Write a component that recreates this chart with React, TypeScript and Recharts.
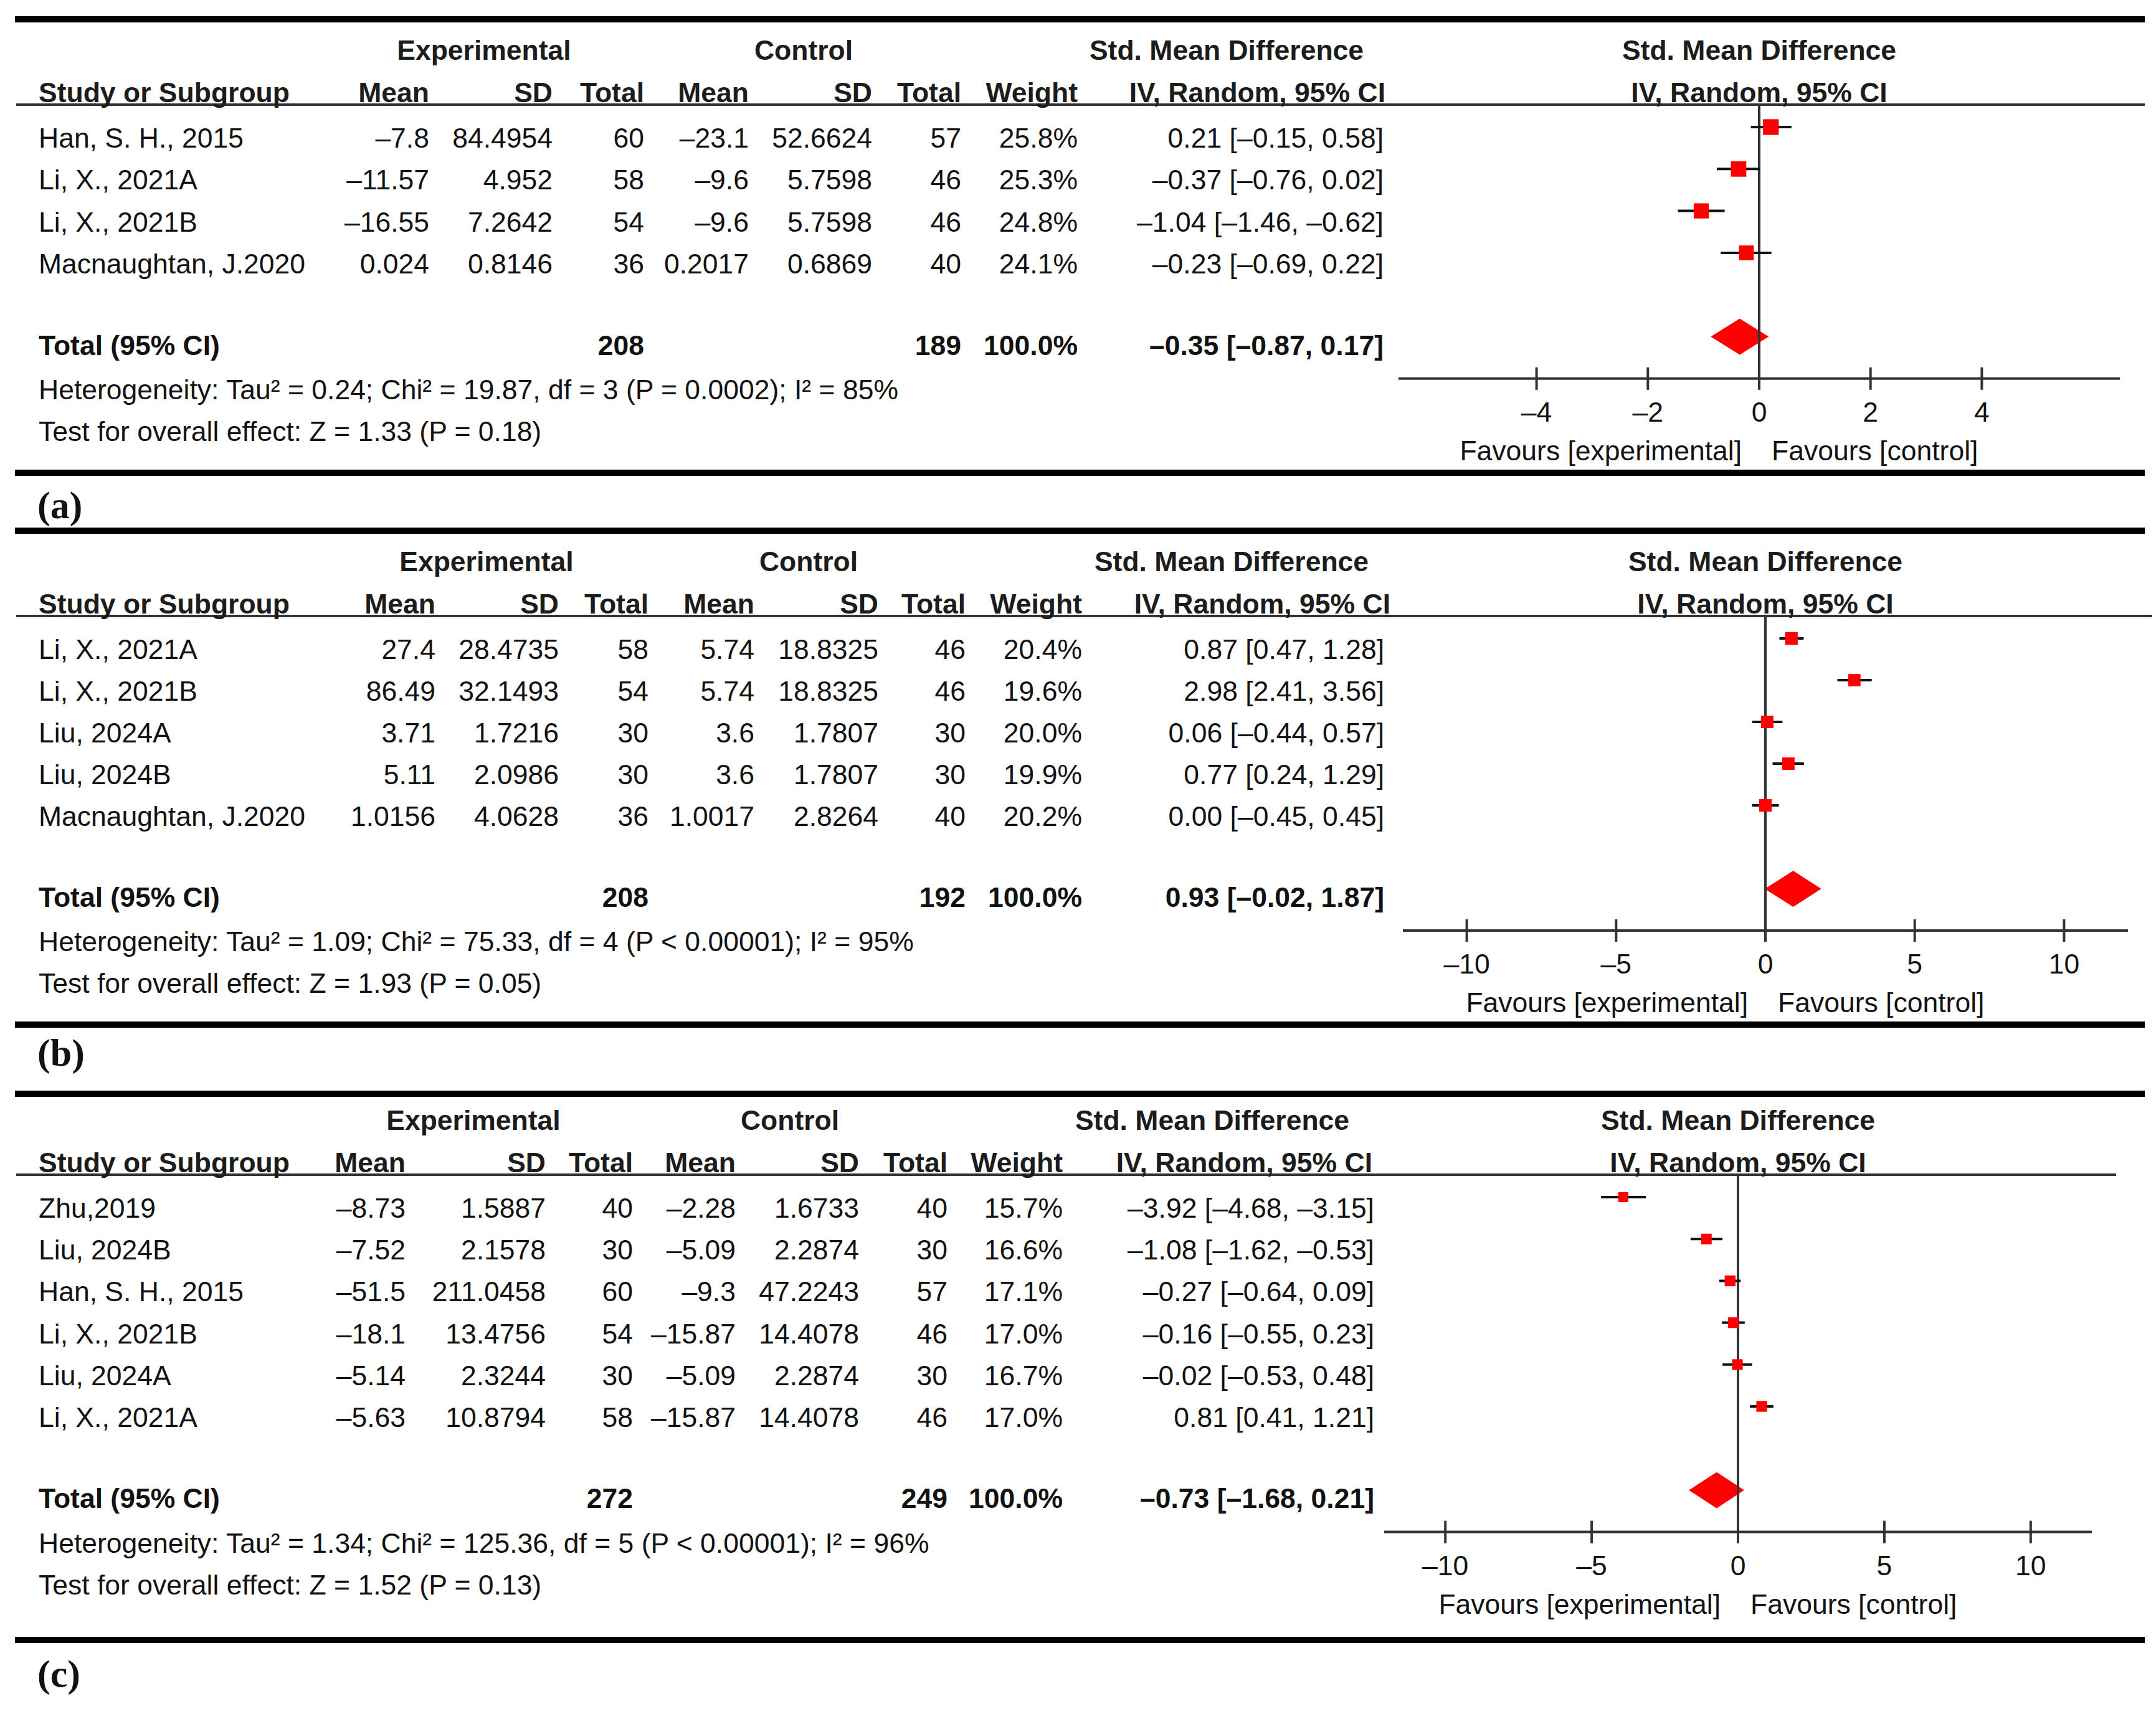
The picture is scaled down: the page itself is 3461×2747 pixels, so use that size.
import React from 'react';
import { ComposedChart, Scatter, Area, XAxis, YAxis, ErrorBar, ReferenceLine } from 'recharts';

const W = 3461;
const H = 2747;
const SANS = '"Liberation Sans", Arial, Helvetica, sans-serif';
const SERIF = '"Liberation Serif", "Times New Roman", serif';
const INK = '#121212';
const GRID = '#333333';
const RED = '#ff0000';
const FS = 44.5;

// ---------------- Panel (a) ----------------
const studiesA = ['Han, S. H., 2015', 'Li, X., 2021A', 'Li, X., 2021B', 'Macnaughtan, J.2020'];
const expMeanA = [-7.8, -11.57, -16.55, 0.024];
const expSdA = [84.4954, 4.952, 7.2642, 0.8146];
const expNA = [60, 58, 54, 36];
const ctlMeanA = [-23.1, -9.6, -9.6, 0.2017];
const ctlSdA = [52.6624, 5.7598, 5.7598, 0.6869];
const ctlNA = [57, 46, 46, 40];
const weightA = [25.8, 25.3, 24.8, 24.1];
const smdA = [0.21, -0.37, -1.04, -0.23];
const lowA = [-0.15, -0.76, -1.46, -0.69];
const highA = [0.58, 0.02, -0.62, 0.22];
const totalNA = [208, 189];
const pooledA = [-0.35, -0.87, 0.17];
const hetA = 'Heterogeneity: Tau² = 0.24; Chi² = 19.87, df = 3 (P = 0.0002); I² = 85%';
const testA = 'Test for overall effect: Z = 1.33 (P = 0.18)';
const ticksA = [-4, -2, 0, 2, 4];

// ---------------- Panel (b) ----------------
const studiesB = ['Li, X., 2021A', 'Li, X., 2021B', 'Liu, 2024A', 'Liu, 2024B', 'Macnaughtan, J.2020'];
const expMeanB = [27.4, 86.49, 3.71, 5.11, 1.0156];
const expSdB = [28.4735, 32.1493, 1.7216, 2.0986, 4.0628];
const expNB = [58, 54, 30, 30, 36];
const ctlMeanB = [5.74, 5.74, 3.6, 3.6, 1.0017];
const ctlSdB = [18.8325, 18.8325, 1.7807, 1.7807, 2.8264];
const ctlNB = [46, 46, 30, 30, 40];
const weightB = [20.4, 19.6, 20.0, 19.9, 20.2];
const smdB = [0.87, 2.98, 0.06, 0.77, 0.0];
const lowB = [0.47, 2.41, -0.44, 0.24, -0.45];
const highB = [1.28, 3.56, 0.57, 1.29, 0.45];
const totalNB = [208, 192];
const pooledB = [0.93, -0.02, 1.87];
const hetB = 'Heterogeneity: Tau² = 1.09; Chi² = 75.33, df = 4 (P < 0.00001); I² = 95%';
const testB = 'Test for overall effect: Z = 1.93 (P = 0.05)';
const ticksB = [-10, -5, 0, 5, 10];

// ---------------- Panel (c) ----------------
const studiesC = ['Zhu,2019', 'Liu, 2024B', 'Han, S. H., 2015', 'Li, X., 2021B', 'Liu, 2024A', 'Li, X., 2021A'];
const expMeanC = [-8.73, -7.52, -51.5, -18.1, -5.14, -5.63];
const expSdC = [1.5887, 2.1578, 211.0458, 13.4756, 2.3244, 10.8794];
const expNC = [40, 30, 60, 54, 30, 58];
const ctlMeanC = [-2.28, -5.09, -9.3, -15.87, -5.09, -15.87];
const ctlSdC = [1.6733, 2.2874, 47.2243, 14.4078, 2.2874, 14.4078];
const ctlNC = [40, 30, 57, 46, 30, 46];
const weightC = [15.7, 16.6, 17.1, 17.0, 16.7, 17.0];
const smdC = [-3.92, -1.08, -0.27, -0.16, -0.02, 0.81];
const lowC = [-4.68, -1.62, -0.64, -0.55, -0.53, 0.41];
const highC = [-3.15, -0.53, 0.09, 0.23, 0.48, 1.21];
const totalNC = [272, 249];
const pooledC = [-0.73, -1.68, 0.21];
const hetC = 'Heterogeneity: Tau² = 1.34; Chi² = 125.36, df = 5 (P < 0.00001); I² = 96%';
const testC = 'Test for overall effect: Z = 1.52 (P = 0.13)';
const ticksC = [-10, -5, 0, 5, 10];

// ---------------- Layout (pixel geometry) ----------------
const layoutA = {
  label: '(a)', topLine: 31, first: 204, dy: 67.3, x0: 2245, x1: 3403, lim: 6.48,
  bottomLine: 759, labelBase: 832, ruleEnd: 3443,
  cols: [689, 887, 1034, 1202, 1400, 1543, 1730, 2221], hdrCI: 2224, expC: 777, ctlC: 1290, smdC: 1969,
};
const layoutB = {
  label: '(b)', topLine: 852, first: 1025, dy: 67, x0: 2252, x1: 3416, lim: 12.14,
  bottomLine: 1645, labelBase: 1711, ruleEnd: 3455,
  cols: [699, 897, 1041, 1211, 1410, 1550, 1737, 2222], hdrCI: 2232, expC: 781, ctlC: 1298, smdC: 1977,
};
const layoutC = {
  label: '(c)', topLine: 1756, first: 1922, dy: 67.2, x0: 2222, x1: 3358, lim: 12.09,
  bottomLine: 2633, labelBase: 2708, ruleEnd: 3397,
  cols: [651, 876, 1016, 1181, 1379, 1521, 1706, 2206], hdrCI: 2203, expC: 760, ctlC: 1268, smdC: 1946,
};

const panels = [
  { names: studiesA, eM: expMeanA, eS: expSdA, eN: expNA, cM: ctlMeanA, cS: ctlSdA, cN: ctlNA, w: weightA, est: smdA, lo: lowA, hi: highA, tot: totalNA, pooled: pooledA, het: hetA, test: testA, ticks: ticksA, lay: layoutA },
  { names: studiesB, eM: expMeanB, eS: expSdB, eN: expNB, cM: ctlMeanB, cS: ctlSdB, cN: ctlNB, w: weightB, est: smdB, lo: lowB, hi: highB, tot: totalNB, pooled: pooledB, het: hetB, test: testB, ticks: ticksB, lay: layoutB },
  { names: studiesC, eM: expMeanC, eS: expSdC, eN: expNC, cM: ctlMeanC, cS: ctlSdC, cN: ctlNC, w: weightC, est: smdC, lo: lowC, hi: highC, tot: totalNC, pooled: pooledC, het: hetC, test: testC, ticks: ticksC, lay: layoutC },
];

const dash = (s: string) => s.replace('-', '–');
const fmt = (v: number) => dash(String(v));
const fmt2 = (v: number) => dash(v.toFixed(2));
const ci = (e: number, l: number, h: number) => `${fmt2(e)} [${fmt2(l)}, ${fmt2(h)}]`;

function Table({ p }: { p: any }) {
  const L = p.lay;
  const n = p.names.length;
  const base = (i: number) => L.first + L.dy * i + 33;
  const totBase = L.first + L.dy * (n + 1) + 29;
  const [cM, cS, cN, kM, kS, kN, cW, cCI] = L.cols;
  const zeroX = L.x0 + ((0 + L.lim) / (2 * L.lim)) * (L.x1 - L.x0);
  const h1 = L.first - 108;
  const h2 = L.first - 40;
  const B = { fontWeight: 700 } as any;
  return (
    <g>
      <line x1={24} x2={3443} y1={L.topLine} y2={L.topLine} stroke="#000" strokeWidth={10} />
      <line x1={24} x2={3443} y1={L.bottomLine} y2={L.bottomLine} stroke="#000" strokeWidth={10} />
      <line x1={26} x2={L.ruleEnd} y1={L.first - 36} y2={L.first - 36} stroke={GRID} strokeWidth={4} />
      <g fontWeight={700} fill="#1c1c1c">
        <text x={L.expC} y={h1} textAnchor="middle">Experimental</text>
        <text x={L.ctlC} y={h1} textAnchor="middle">Control</text>
        <text x={L.smdC} y={h1} textAnchor="middle">Std. Mean Difference</text>
        <text x={zeroX} y={h1} textAnchor="middle">Std. Mean Difference</text>
        <text x={62} y={h2}>Study or Subgroup</text>
        <text x={cM} y={h2} textAnchor="end">Mean</text>
        <text x={cS} y={h2} textAnchor="end">SD</text>
        <text x={cN} y={h2} textAnchor="end">Total</text>
        <text x={kM} y={h2} textAnchor="end">Mean</text>
        <text x={kS} y={h2} textAnchor="end">SD</text>
        <text x={kN} y={h2} textAnchor="end">Total</text>
        <text x={cW} y={h2} textAnchor="end">Weight</text>
        <text x={L.hdrCI} y={h2} textAnchor="end">IV, Random, 95% CI</text>
        <text x={zeroX} y={h2} textAnchor="middle">IV, Random, 95% CI</text>
      </g>
      {p.names.map((name: string, i: number) => (
        <g key={i}>
          <text x={62} y={base(i)}>{name}</text>
          <text x={cM} y={base(i)} textAnchor="end">{fmt(p.eM[i])}</text>
          <text x={cS} y={base(i)} textAnchor="end">{fmt(p.eS[i])}</text>
          <text x={cN} y={base(i)} textAnchor="end">{p.eN[i]}</text>
          <text x={kM} y={base(i)} textAnchor="end">{fmt(p.cM[i])}</text>
          <text x={kS} y={base(i)} textAnchor="end">{fmt(p.cS[i])}</text>
          <text x={kN} y={base(i)} textAnchor="end">{p.cN[i]}</text>
          <text x={cW} y={base(i)} textAnchor="end">{p.w[i].toFixed(1)}%</text>
          <text x={cCI} y={base(i)} textAnchor="end">{ci(p.est[i], p.lo[i], p.hi[i])}</text>
        </g>
      ))}
      <g style={B}>
        <text x={62} y={totBase}>Total (95% CI)</text>
        <text x={cN} y={totBase} textAnchor="end">{p.tot[0]}</text>
        <text x={kN} y={totBase} textAnchor="end">{p.tot[1]}</text>
        <text x={cW} y={totBase} textAnchor="end">100.0%</text>
        <text x={cCI} y={totBase} textAnchor="end">{ci(p.pooled[0], p.pooled[1], p.pooled[2])}</text>
      </g>
      <text x={62} y={base(n + 2)}>{p.het}</text>
      <text x={62} y={base(n + 3)}>{p.test}</text>
      <text x={60} y={L.labelBase} fontFamily={SERIF} fontWeight={700} fontSize={62}>{L.label}</text>
    </g>
  );
}

const fmtTick = (v: number) => (v < 0 ? '–' + Math.abs(v) : String(v));

const renderTick = (props: any) => {
  const { x, y, payload } = props;
  const v = payload.value;
  return (
    <g>
      <line x1={x} x2={x} y1={y - 18} y2={y + 18} stroke={GRID} strokeWidth={4} />
      <text x={x} y={y + 69} textAnchor="middle" fontFamily={SANS} fontSize={FS} fill={INK}>{fmtTick(v)}</text>
      {v === 0 && (
        <g fontFamily={SANS} fontSize={FS} fill={INK}>
          <text x={x - 28} y={y + 131} textAnchor="end">Favours [experimental]</text>
          <text x={x + 20} y={y + 131} textAnchor="start">Favours [control]</text>
        </g>
      )}
    </g>
  );
};

const emptyShape = () => <g />;
const squareShape = (props: any) => {
  const { cx, cy } = props;
  const w = props.w ?? (props.payload && props.payload.w) ?? 20;
  const s = 2 + 0.9 * w;
  return <rect x={cx - s / 2} y={cy - s / 2} width={s} height={s} fill={RED} />;
};

function Forest({ p }: { p: any }) {
  const L = p.lay;
  const n = p.names.length;
  const axisY = L.first + L.dy * (n + 2);
  const plotTop = L.first - 36;
  const XH = 200;
  const studies = p.est.map((e: number, i: number) => ({ x: e, y: i, err: [e - p.lo[i], p.hi[i] - e], w: p.w[i] }));
  const di = n + 1;
  const hh = 29 / L.dy;
  const diamond = [
    { x: p.pooled[1], r: [di, di] },
    { x: p.pooled[0], r: [di - hh, di + hh] },
    { x: p.pooled[2], r: [di, di] },
  ];
  return (
    <div style={{ position: 'absolute', left: 0, top: 0 }}>
      <ComposedChart
        width={W}
        height={H}
        data={diamond}
        margin={{ top: plotTop, left: L.x0, right: W - L.x1, bottom: H - axisY - XH }}
      >
        <XAxis
          type="number"
          dataKey="x"
          domain={[-L.lim, L.lim]}
          ticks={p.ticks}
          interval={0}
          allowDataOverflow
          height={XH}
          tickSize={0}
          tickMargin={0}
          tickLine={false}
          axisLine={{ stroke: GRID, strokeWidth: 4 }}
          tick={renderTick}
        />
        <YAxis type="number" dataKey="y" domain={[(plotTop - L.first) / L.dy, n + 2]} reversed hide allowDataOverflow />
        <Area dataKey="r" type="linear" stroke="none" fill={RED} fillOpacity={1} isAnimationActive={false} />
        <ReferenceLine x={0} stroke={GRID} strokeWidth={4} />
        <Scatter data={studies} shape={emptyShape} isAnimationActive={false}>
          <ErrorBar dataKey="err" direction="x" width={0} stroke="#111" strokeWidth={4} isAnimationActive={false} />
        </Scatter>
        <Scatter data={studies} shape={squareShape} isAnimationActive={false} />
      </ComposedChart>
    </div>
  );
}

export default function App() {
  return (
    <div style={{ position: 'absolute', left: 0, top: 0, width: W, height: H, background: '#fff', overflow: 'hidden' }}>
      <svg width={W} height={H} style={{ position: 'absolute', left: 0, top: 0 }} fontFamily={SANS} fontSize={FS} fill={INK}>
        {panels.map((p, i) => (
          <Table key={i} p={p} />
        ))}
      </svg>
      {panels.map((p, i) => (
        <Forest key={i} p={p} />
      ))}
    </div>
  );
}
